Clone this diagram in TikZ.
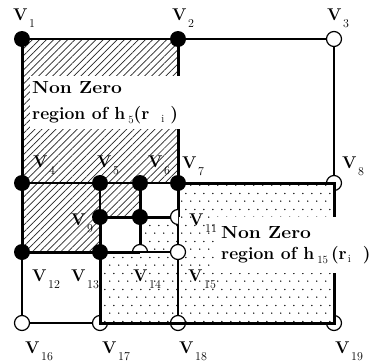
\documentclass[tikz,border=0pt]{standalone}
\usetikzlibrary{patterns,patterns.meta}
\pgfdeclarepatternformonly{sdots}{\pgfqpoint{0pt}{0pt}}{\pgfqpoint{9pt}{16pt}}{\pgfqpoint{9pt}{16pt}}{%
  \pgfpathcircle{\pgfqpoint{2pt}{2pt}}{0.85pt}%
  \pgfpathcircle{\pgfqpoint{6.5pt}{10pt}}{0.85pt}%
  \pgfusepath{fill}}
\newcommand{\subf}{\fontsize{11}{11}\selectfont\mdseries}
\newcommand{\vsubf}{\fontsize{12}{12}\selectfont\mdseries}
\newcommand{\vl}[1]{{\fontsize{17}{17}\selectfont\bfseries V}\kern1.5pt\raisebox{-7pt}{\vsubf #1}}
\newcommand{\nz}{\scalebox{1.1}[1]{Non Zero}}
\tikzset{
  thin edge/.style={line width=1.7pt},
  mid edge/.style={line width=2.2pt},
  thick edge/.style={line width=3pt},
  fv/.style={circle,fill=black,inner sep=0pt,minimum size=16pt},
  ov/.style={circle,draw=black,fill=white,line width=1.2pt,inner sep=0pt,minimum size=15pt},
  oline/.style={draw=black,line width=1.2pt},
  vlab/.style={anchor=base west,inner sep=0pt},
  bigl/.style={fill=white,align=left},
  hatch/.style={pattern={Lines[angle=45,distance=5pt,line width=0.7pt]},pattern color=black!85},
  dotsreg/.style={pattern=sdots,pattern color=black}
}
\newcommand{\pcirc}[3]{\fill[white] (#1) -- ++(#2:7.5) arc[start angle=#2,end angle=#3,radius=7.5] -- cycle;
  \draw[oline] (#1) ++(#2:7.5) arc[start angle=#2,end angle=#3,radius=7.5];}
\begin{document}
\begin{tikzpicture}[x=1pt,y=-1pt]
\useasboundingbox[fill=white] (0,0) rectangle (375,362);
% vertex positions
\coordinate (c1) at (22,39);  \coordinate (c2) at (178,39);  \coordinate (c3) at (334,39);
\coordinate (c4) at (22,183); \coordinate (c5) at (100,183); \coordinate (c6) at (140,183);
\coordinate (c7) at (178,183); \coordinate (c8) at (334,183);
\coordinate (c9) at (100,217); \coordinate (c10) at (140,217); \coordinate (c11) at (178,217);
\coordinate (c12) at (22,252); \coordinate (c13) at (100,252); \coordinate (c14) at (140,252);
\coordinate (c15) at (178,252);
\coordinate (c16) at (22,323); \coordinate (c17) at (100,323); \coordinate (c18) at (178,323);
\coordinate (c19) at (334,323);
% regions
\fill[hatch] (c1) -- (c2) -- (c7) -- (c6) -- (c10) -- (c9) -- (c13) -- (c12) -- cycle;
\fill[dotsreg] (c10) -- (c11) -- (c7) -- (c8) -- (c19) -- (c17) -- (c13) -- (c14) -- cycle;
% thin edges
\draw[thin edge] (c1) -- (c2) -- (c3) -- (c8);
\draw[mid edge] (c4) -- (c5) -- (c6) -- (c7);
\draw[thin edge] (c5) -- (c9);
\draw[thin edge] (c11) -- (c15) -- (c18);
\draw[thin edge] (c12) -- (c16) -- (c17);
% thick edges
\draw[thick edge] (c1) -- (c4) -- (c12) -- (c13);
\draw[thick edge] (c2) -- (c7) -- (c11);
\draw[thick edge] (c6) -- (c10) -- (c14);
\draw[thick edge] (c9) -- (c10) -- (c11);
\draw[thick edge] (c9) -- (c13);
% vertices
\node[fv] (v1) at (c1) {};  \node[fv] (v2) at (c2) {};
\node[ov] (v3) at (c3) {};
\node[fv] (v4) at (c4) {};  \node[fv] (v5) at (c5) {};
\node[fv] (v6) at (c6) {};  \node[fv] (v7) at (c7) {};
\pcirc{c8}{180}{450}
\node[fv] (v9) at (c9) {};  \node[fv] (v10) at (c10) {};
\pcirc{c11}{90}{270}
\node[fv] (v12) at (c12) {}; \node[fv] (v13) at (c13) {};
\pcirc{c14}{180}{360}
\node[ov] (v15) at (c15) {};
\node[ov] (v16) at (c16) {};
\pcirc{c17}{0}{270}
\node[ov] (v18) at (c18) {};
\pcirc{c19}{270}{540}
% top layer edges
\draw[thick edge] (v7.center) -- (c8) -- (c19) -- (c18) -- (c17) -- (v13.center) -- (c14);
\draw[thin edge, shorten >=7.5pt] (c14) -- (v15.center);
% region labels
\node[bigl, font=\fontsize{17.5}{26}\selectfont\bfseries, inner xsep=2pt, inner ysep=5pt,
      anchor=north west] (t1) at (30,76)
  {\nz\\region of h\kern3pt\raisebox{-4pt}{\subf 5}(r\kern12pt\raisebox{-3pt}{\subf i}\kern6pt)};
\node[bigl, font=\fontsize{17.5}{21}\selectfont\bfseries, inner xsep=7pt, inner ysep=9pt,
      anchor=north west] (t2) at (214,217)
  {\nz\\region of h\kern3pt\raisebox{-4pt}{\subf 15}\kern3pt(r\kern1pt\raisebox{-3pt}{\subf i}\kern12pt)};
% vertex labels
\node[vlab] (l1) at (13,20) {\vl{1}};
\node[vlab] (l2) at (172,20) {\vl{2}};
\node[vlab] (l3) at (327,20) {\vl{3}};
\node[vlab] (l4) at (33,167) {\vl{4}};
\node[vlab] (l5) at (97,167) {\vl{5}};
\node[vlab] (l6) at (148,167) {\vl{6}};
\node[vlab] (l7) at (182,168) {\vl{7}};
\node[vlab] (l8) at (342,168) {\vl{8}};
\node[vlab] (l9) at (71,225) {\vl{9}};
\node[vlab] (l11) at (189,225) {\vl{11}};
\node[vlab] (l12) at (32,281) {\vl{12}};
\node[vlab] (l13) at (71,281) {\vl{13}};
\node[vlab] (l14) at (133,281) {\vl{14}};
\node[vlab] (l15) at (188,281) {\vl{15}};
\node[vlab] (l16) at (25,353) {\vl{16}};
\node[vlab] (l17) at (102,353) {\vl{17}};
\node[vlab] (l18) at (179,353) {\vl{18}};
\node[vlab] (l19) at (335,353) {\vl{19}};
\end{tikzpicture}
\end{document}
